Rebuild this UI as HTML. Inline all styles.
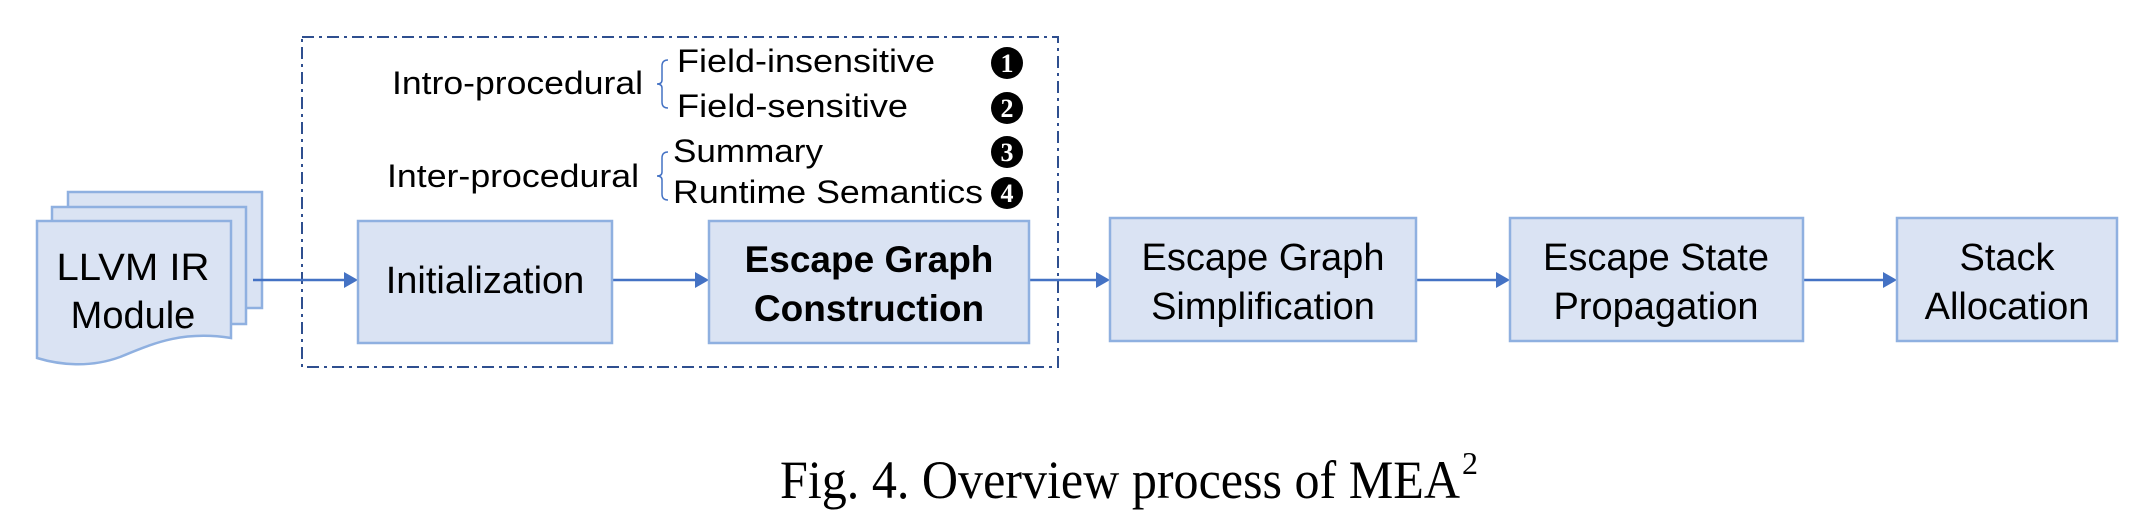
<!DOCTYPE html>
<html><head><meta charset="utf-8"><style>
html,body{margin:0;padding:0;background:#fff;}
svg{display:block;}
text{font-family:"Liberation Sans",Arial,sans-serif;fill:#000;}
.box{fill:#dae3f3;stroke:#8fb0e0;stroke-width:2.5;}
.ln{stroke:#4472c4;stroke-width:2.5;fill:none;}
.ah{fill:#4472c4;}
.num{fill:#fff;font-family:"Liberation Serif",serif;font-weight:bold;font-size:26px;}
</style></head><body>
<svg width="2152" height="522" viewBox="0 0 2152 522" xmlns="http://www.w3.org/2000/svg">
<rect x="302" y="37" width="756" height="330" fill="none" stroke="#2f4f8f" stroke-width="2" stroke-dasharray="12,5,3,5"/>
<rect x="68" y="192" width="194" height="116" class="box"/>
<rect x="52" y="207" width="194" height="117" class="box"/>
<path d="M37,221 H231 V338 C180,330 150,345 120,357 C90,368 60,365 37,358 Z" class="box"/>
<text x="133" y="280" font-size="38" text-anchor="middle" textLength="153" lengthAdjust="spacingAndGlyphs">LLVM IR</text>
<text x="133" y="328" font-size="38" text-anchor="middle">Module</text>
<line x1="253" y1="280" x2="346" y2="280" class="ln"/><polygon points="358,280 344,272 344,288" class="ah"/>
<line x1="612" y1="280" x2="697" y2="280" class="ln"/><polygon points="709,280 695,272 695,288" class="ah"/>
<line x1="1029" y1="280" x2="1098" y2="280" class="ln"/><polygon points="1110,280 1096,272 1096,288" class="ah"/>
<line x1="1416" y1="280" x2="1498" y2="280" class="ln"/><polygon points="1510,280 1496,272 1496,288" class="ah"/>
<line x1="1803" y1="280" x2="1885" y2="280" class="ln"/><polygon points="1897,280 1883,272 1883,288" class="ah"/>
<rect x="358" y="221" width="254" height="122" class="box"/>
<text x="485" y="293" font-size="38" text-anchor="middle">Initialization</text>
<rect x="709" y="221" width="320" height="122" class="box"/>
<text x="869" y="272" font-size="37" font-weight="bold" text-anchor="middle">Escape Graph</text>
<text x="869" y="321" font-size="37" font-weight="bold" text-anchor="middle">Construction</text>
<rect x="1110" y="218" width="306" height="123" class="box"/>
<text x="1263" y="270" font-size="38" text-anchor="middle">Escape Graph</text>
<text x="1263" y="319" font-size="38" text-anchor="middle">Simplification</text>
<rect x="1510" y="218" width="293" height="123" class="box"/>
<text x="1656" y="270" font-size="38" text-anchor="middle">Escape State</text>
<text x="1656" y="319" font-size="38" text-anchor="middle">Propagation</text>
<rect x="1897" y="218" width="220" height="123" class="box"/>
<text x="2007" y="270" font-size="38" text-anchor="middle">Stack</text>
<text x="2007" y="319" font-size="38" text-anchor="middle">Allocation</text>
<text x="392" y="94" font-size="32" textLength="251" lengthAdjust="spacingAndGlyphs">Intro-procedural</text>
<text x="387" y="187" font-size="32" textLength="252" lengthAdjust="spacingAndGlyphs">Inter-procedural</text>
<path d="M668,60 Q662,60 662,66 V80 Q662,84 657,84 Q662,84 662,88 V102 Q662,108 668,108" stroke="#4472c4" stroke-width="1.5" fill="none"/>
<path d="M668,152 Q662,152 662,158 V172 Q662,176 657,176 Q662,176 662,180 V194 Q662,200 668,200" stroke="#4472c4" stroke-width="1.5" fill="none"/>
<text x="677" y="72" font-size="32" textLength="258" lengthAdjust="spacingAndGlyphs">Field-insensitive</text>
<text x="677" y="117" font-size="32" textLength="231" lengthAdjust="spacingAndGlyphs">Field-sensitive</text>
<text x="673" y="162" font-size="32" textLength="150" lengthAdjust="spacingAndGlyphs">Summary</text>
<text x="673" y="203" font-size="32" textLength="310" lengthAdjust="spacingAndGlyphs">Runtime Semantics</text>
<circle cx="1007" cy="63" r="16" fill="#000"/><text x="1007" y="72" class="num" text-anchor="middle">1</text>
<circle cx="1007" cy="108" r="16" fill="#000"/><text x="1007" y="117" class="num" text-anchor="middle">2</text>
<circle cx="1007" cy="152" r="16" fill="#000"/><text x="1007" y="161" class="num" text-anchor="middle">3</text>
<circle cx="1007" cy="193" r="16" fill="#000"/><text x="1007" y="202" class="num" text-anchor="middle">4</text>
<text x="780" y="498" font-size="54" style="font-family:'Liberation Serif',serif" textLength="680" lengthAdjust="spacingAndGlyphs">Fig. 4.  Overview process of MEA</text>
<text x="1462" y="474" font-size="32" style="font-family:'Liberation Serif',serif">2</text>
</svg>
</body></html>
